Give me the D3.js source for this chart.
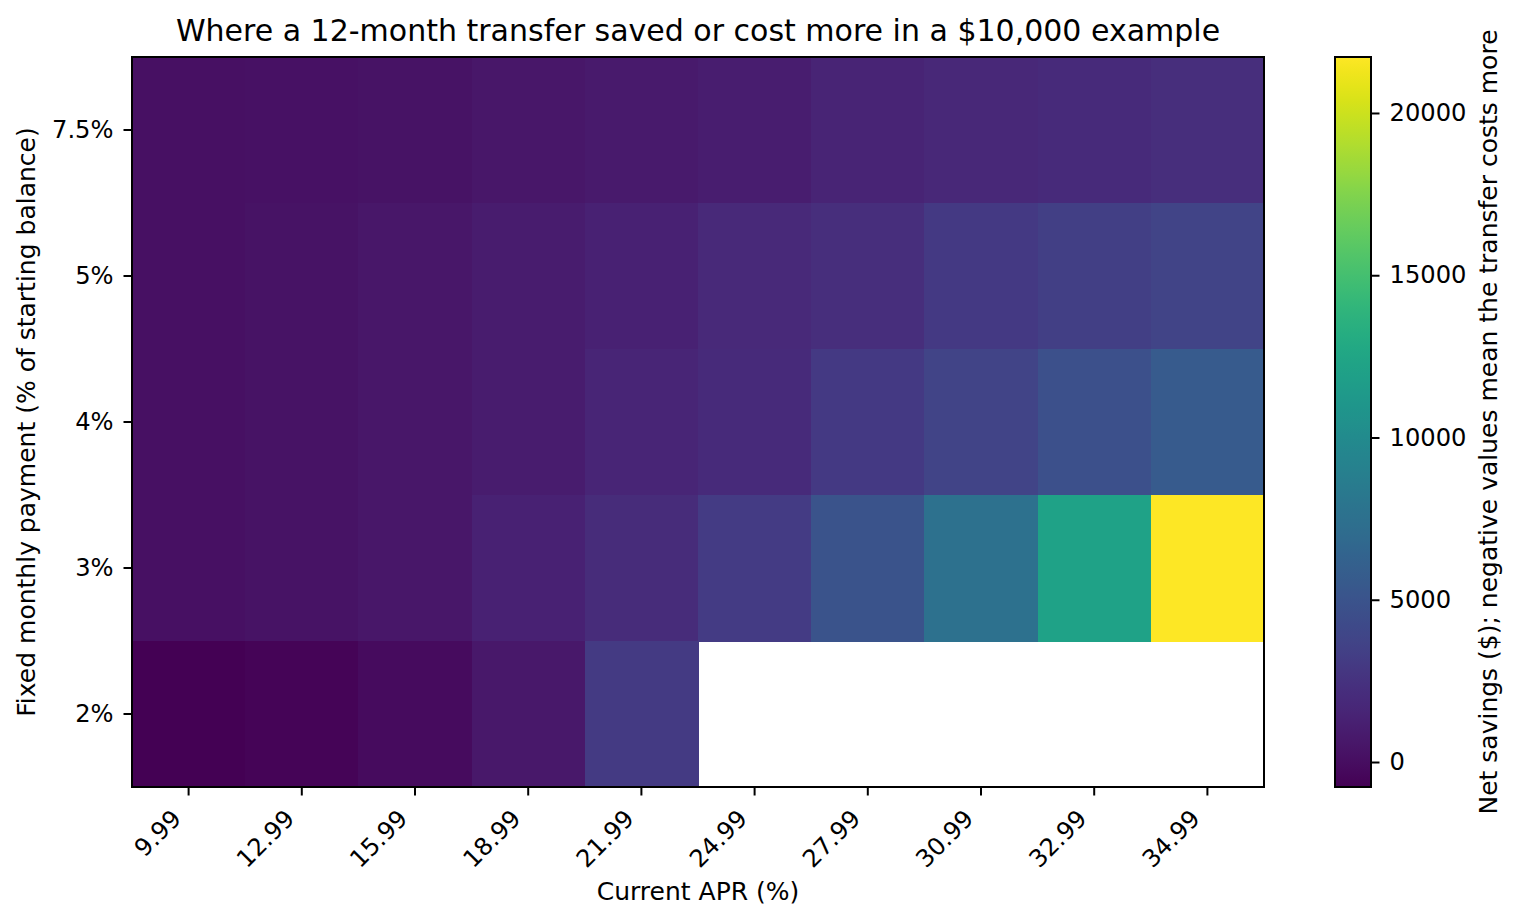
<!DOCTYPE html>
<html>
<head>
<meta charset="utf-8">
<script src="https://cdn.jsdelivr.net/npm/d3@7"></script>
<style>
  html, body { margin: 0; padding: 0; background: #fff; }
  svg { display: block; font-family: "DejaVu Sans", sans-serif; }
  svg text { font-family: "DejaVu Sans", sans-serif; }
</style>
</head>
<body>
<svg id="chart" width="1520" height="924"></svg>
<script>
// ---- data ----
const aprLabels = ["9.99", "12.99", "15.99", "18.99", "21.99", "24.99", "27.99", "30.99", "32.99", "34.99"];
const paymentLabels = ["7.5%", "5%", "4%", "3%", "2%"];
// net savings ($) per payment row (top to bottom), one value per APR column; null = no value
const savings75 = [175, 240, 355, 580, 805, 1030, 1480, 1705, 1930, 2155];
const savings5  = [175, 355, 580, 920, 1255, 1820, 2155, 2940, 3390, 3730];
const savings4  = [175, 355, 625, 920, 1590, 1930, 2940, 3730, 4740, 5640];
const savings3  = [175, 355, 625, 1255, 2040, 3170, 4970, 7550, 12170, 21725];
const savings2  = [-770, -545, -95, 690, 3050, null, null, null, null, null];
const colorbarTicks = [0, 5000, 10000, 15000, 20000];

const rows = [savings75, savings5, savings4, savings3, savings2];
const cells = [];
rows.forEach((r, i) => r.forEach((v, j) => cells.push({ row: paymentLabels[i], col: aprLabels[j], v })));

// ---- layout ----
const svg = d3.select("#chart");
const L = 132, R = 1264, T = 57, B = 787;
const tickFont = 24.2;
const labelFont = 25;
const FF = "DejaVu Sans";

const x = d3.scaleBand().domain(aprLabels).range([L, R]).padding(0);
const y = d3.scaleBand().domain(paymentLabels).range([T, B]).padding(0);
const vals = cells.filter(c => c.v !== null).map(c => c.v);
const vmin = d3.min(vals), vmax = d3.max(vals);
const color = d3.scaleSequential(d3.interpolateViridis).domain([vmin, vmax]);

// cells
svg.append("g").selectAll("rect")
  .data(cells.filter(c => c.v !== null))
  .join("rect")
  .attr("x", d => x(d.col))
  .attr("y", d => y(d.row))
  .attr("width", x.bandwidth() + 0.5)
  .attr("height", y.bandwidth() + 0.5)
  .attr("fill", d => color(d.v))
  .attr("shape-rendering", "crispEdges");

// frame
svg.append("rect")
  .attr("x", L).attr("y", T).attr("width", R - L).attr("height", B - T)
  .attr("fill", "none").attr("stroke", "#000").attr("stroke-width", 2);

// x axis
const xAxis = svg.append("g").attr("transform", `translate(0,${B})`)
  .call(d3.axisBottom(x).tickSize(8.5).tickSizeOuter(0));
xAxis.attr("font-family", FF).attr("font-size", tickFont);
xAxis.select(".domain").remove();
xAxis.selectAll(".tick line").attr("stroke", "#000").attr("stroke-width", 2);
xAxis.selectAll(".tick text")
  .attr("font-size", tickFont).attr("font-family", FF).attr("fill", "#000")
  .attr("text-anchor", "end")
  .attr("y", 0).attr("dy", 0)
  .attr("transform", "translate(-6,33) rotate(-45)");

// y axis
const yAxis = svg.append("g").attr("transform", `translate(${L},0)`)
  .call(d3.axisLeft(y).tickSize(8.5).tickSizeOuter(0).tickPadding(10));
yAxis.attr("font-family", FF).attr("font-size", tickFont);
yAxis.select(".domain").remove();
yAxis.selectAll(".tick line").attr("stroke", "#000").attr("stroke-width", 2);
yAxis.selectAll(".tick text").attr("font-size", tickFont).attr("font-family", FF).attr("fill", "#000");

// title and labels
svg.append("text").attr("x", (L + R) / 2).attr("y", 41)
  .attr("text-anchor", "middle").attr("font-size", 30)
  .text("Where a 12-month transfer saved or cost more in a $10,000 example");
svg.append("text").attr("x", (L + R) / 2).attr("y", 900)
  .attr("text-anchor", "middle").attr("font-size", labelFont)
  .text("Current APR (%)");
svg.append("text")
  .attr("transform", `translate(34.5,${(T + B) / 2}) rotate(-90)`)
  .attr("text-anchor", "middle").attr("font-size", labelFont)
  .text("Fixed monthly payment (% of starting balance)");

// colorbar
const cbL = 1335, cbW = 36;
const cbScale = d3.scaleLinear().domain([vmin, vmax]).range([B, T]);
const defs = svg.append("defs");
const grad = defs.append("linearGradient").attr("id", "cbgrad")
  .attr("x1", "0").attr("y1", "1").attr("x2", "0").attr("y2", "0");
d3.range(0, 1.0001, 0.02).forEach(t => {
  grad.append("stop").attr("offset", t).attr("stop-color", d3.interpolateViridis(t));
});
svg.append("rect").attr("x", cbL).attr("y", T).attr("width", cbW).attr("height", B - T)
  .attr("fill", "url(#cbgrad)");
svg.append("rect").attr("x", cbL).attr("y", T).attr("width", cbW).attr("height", B - T)
  .attr("fill", "none").attr("stroke", "#000").attr("stroke-width", 2);
const cbAxis = svg.append("g").attr("transform", `translate(${cbL + cbW},0)`)
  .call(d3.axisRight(cbScale).tickValues(colorbarTicks).tickFormat(d3.format("d"))
    .tickSize(8.5).tickSizeOuter(0).tickPadding(10));
cbAxis.attr("font-family", FF).attr("font-size", tickFont);
cbAxis.select(".domain").remove();
cbAxis.selectAll(".tick line").attr("stroke", "#000").attr("stroke-width", 2);
cbAxis.selectAll(".tick text").attr("font-size", tickFont).attr("font-family", FF).attr("fill", "#000");
svg.append("text")
  .attr("transform", `translate(1497,${(T + B) / 2}) rotate(-90)`)
  .attr("text-anchor", "middle").attr("font-size", labelFont)
  .text("Net savings ($); negative values mean the transfer costs more");
</script>
</body>
</html>
